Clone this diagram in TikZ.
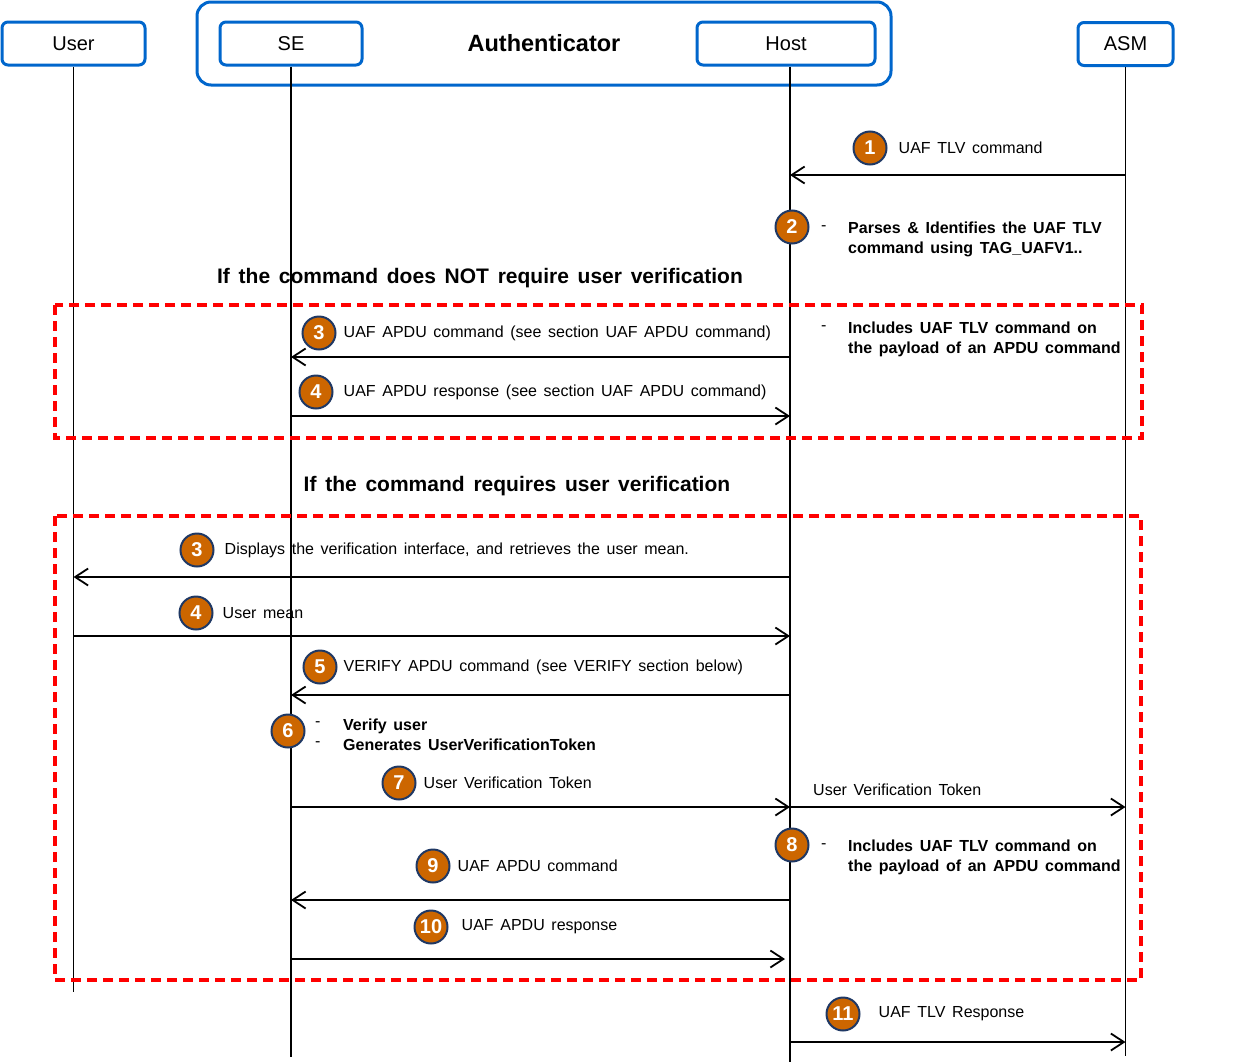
\documentclass[tikz,border=0pt]{standalone}
\usepackage{fontspec}
\setmainfont{Liberation Sans}[WordSpace=1.5]
\usetikzlibrary{arrows.meta,positioning}
\definecolor{boxBlue}{RGB}{0,102,204}
\definecolor{stepOrange}{RGB}{204,102,0}
\definecolor{stepNavy}{RGB}{31,56,100}

\tikzset{
    actor/.style={draw=boxBlue, line width=3pt, rounded corners=6pt,
        minimum height=43pt, font=\fontsize{20}{24}\selectfont},
    authbox/.style={draw=boxBlue, line width=3pt, rounded corners=14pt,
        minimum width=694pt, minimum height=83pt,
        font=\bfseries\fontsize{23.5}{27}\selectfont},
    life/.style={line width=1.8pt},
    msg/.style={line width=1.8pt, -{Straight Barb[length=13pt,width=17pt]}},
    stepnum/.style={circle, fill=stepOrange, draw=stepNavy, line width=2pt,
        minimum size=33pt, inner sep=0pt, text=white,
        font=\bfseries\fontsize{20}{20}\selectfont},
    lbl/.style={anchor=west, inner sep=0pt, font=\fontsize{16}{19}\selectfont},
    note/.style={anchor=west, inner sep=0pt, align=left,
        font=\bfseries\fontsize{16}{20}\selectfont},
    heading/.style={font=\bfseries\fontsize{21}{25}\selectfont},
    verifybox/.style={draw=red, line width=3.4pt, dash pattern=on 10pt off 6pt},
}

\begin{document}
\begin{tikzpicture}[x=1pt,y=-1pt]
    \useasboundingbox (0,0) rectangle (1260,1063);

    % actors
    \node[authbox] (auth) at (544,43.5) {Authenticator};
    \node[actor, minimum width=143pt] (user) at (73.5,43.5) {User};
    \node[actor, minimum width=142pt] (se) at (291,43.5) {SE};
    \node[actor, minimum width=178pt] (host) at (786,43.5) {Host};
    \node[actor, minimum width=95pt] (asm) at (1125.5,44) {ASM};

    % lifelines
    \draw[life] (user.south) -- ++(0,925) coordinate (userB);
    \draw[life] (se.south) -- ++(0,990) coordinate (seB);
    \draw[life] ([xshift=4pt]host.south) -- ++(0,995) coordinate (hostB);
    \draw[life] (asm.south) -- ++(0,989) coordinate (asmB);

    % verification cases
    \node[heading] (caseA) at (480,278) {If the command does NOT require user verification};
    \draw[verifybox] (55,305) rectangle (1142,438);
    \node[heading] (caseB) at (517,486) {If the command requires user verification};
    \draw[verifybox] (55,516) rectangle (1141,980);

    % messages
    \draw[msg] (asmB |- 0,175) -- (hostB |- 0,175);
    \draw[msg] (hostB |- 0,357) -- (seB |- 0,357);
    \draw[msg] (seB |- 0,416) -- (hostB |- 0,416);
    \draw[msg] (hostB |- 0,577) -- (userB |- 0,577);
    \draw[msg] (userB |- 0,636) -- (hostB |- 0,636);
    \draw[msg] (hostB |- 0,695) -- (seB |- 0,695);
    \draw[msg] (seB |- 0,807) -- (hostB |- 0,807);
    \draw[msg] (hostB |- 0,807) -- (asmB |- 0,807);
    \draw[msg] (hostB |- 0,900) -- (seB |- 0,900);
    \draw[msg, shorten >=5pt] (seB |- 0,959) -- (hostB |- 0,959);
    \draw[msg] (hostB |- 0,1042) -- (asmB |- 0,1042);

    % steps
    \node[stepnum] (s1) at (870,148) {1};
    \node[lbl, right=11pt of s1] {UAF TLV command};

    \node[stepnum] (s2) at (792,227) {2};
    \node[lbl] at (821,228) {-};
    \node[note] at (848,239) {Parses \& Identifies the UAF TLV\\command using TAG\_UAFV1..};

    \node[stepnum] (s3) at (319,333) {3};
    \node[lbl, right=7pt of s3] {UAF APDU command (see section UAF APDU command)};
    \node[lbl] at (821,328) {-};
    \node[note] at (848,339) {Includes UAF TLV command on\\the payload of an APDU command};

    \node[stepnum] (s4) at (316,392) {4};
    \node[lbl, right=10pt of s4] {UAF APDU response (see section UAF APDU command)};

    \node[stepnum] (t3) at (197,550) {3};
    \node[lbl, right=10pt of t3] {Displays the verification interface, and retrieves the user mean.};

    \node[stepnum] (t4) at (196,613) {4};
    \node[lbl, right=9pt of t4] {User mean};

    \node[stepnum] (t5) at (320,667) {5};
    \node[lbl, right=6pt of t5] {VERIFY APDU command (see VERIFY section below)};

    \node[stepnum] (t6) at (288,731) {6};
    \node[lbl] at (315,724) {-};
    \node[lbl] at (315,744) {-};
    \node[note] at (343,735) {Verify user\\Generates UserVerificationToken};

    \node[stepnum] (t7) at (399,783) {7};
    \node[lbl, right=7pt of t7] {User Verification Token};
    \node[lbl] at (813,790) {User Verification Token};

    \node[stepnum] (t8) at (792,845) {8};
    \node[lbl] at (821,846) {-};
    \node[note] at (848,857) {Includes UAF TLV command on\\the payload of an APDU command};

    \node[stepnum] (t9) at (433,866) {9};
    \node[lbl, right=7pt of t9] {UAF APDU command};

    \node[stepnum] (t10) at (431,927) {10};
    \node[lbl, right=13pt of t10] {UAF APDU response};

    \node[stepnum] (t11) at (843,1014) {11};
    \node[lbl, right=18pt of t11] {UAF TLV Response};
\end{tikzpicture}
\end{document}
